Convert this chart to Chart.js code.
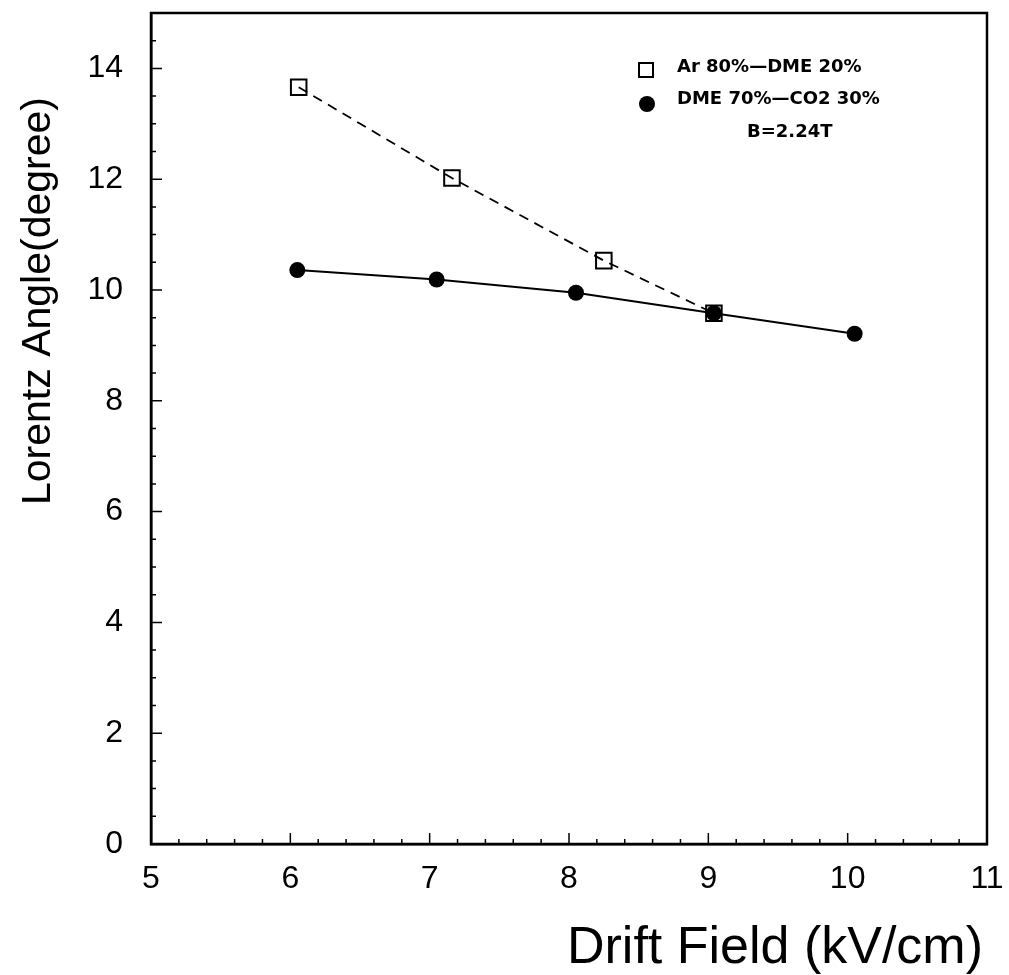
<!DOCTYPE html>
<html>
<head>
<meta charset="utf-8">
<script src="https://cdn.jsdelivr.net/npm/chart.js@4"></script>
<style>
  html, body { margin: 0; padding: 0; background: #fff; }
</style>
</head>
<body>
<canvas id="chart" width="1009" height="975"></canvas>
<script>
// values
const arField = [6.06, 7.16, 8.25, 9.04];
const arAngle = [13.66, 12.02, 10.53, 9.58];
const dmeField = [6.05, 7.05, 8.05, 9.04, 10.05];
const dmeAngle = [10.36, 10.19, 9.95, 9.58, 9.21];
const seriesNames = ['Ar 80%\u2014DME 20%', 'DME 70%\u2014CO2 30%'];
const fieldNote = 'B=2.24T';
const xTitle = 'Drift Field (kV/cm)';
const yTitle = 'Lorentz Angle(degree)';
const xRange = [5, 11];
const yRange = [0, 15];

const toPoints = (xs, ys) => xs.map((v, i) => ({ x: v, y: ys[i] }));

// frame, inward ticks, axis titles and the legend box
const decorations = {
  id: 'decorations',
  afterDraw(chart) {
    const { ctx, chartArea: a, scales: { x, y } } = chart;
    ctx.save();
    ctx.strokeStyle = '#000';
    ctx.lineWidth = 2.5;
    ctx.strokeRect(a.left, a.top, a.right - a.left, a.bottom - a.top);

    ctx.lineWidth = 1.5;
    ctx.beginPath();
    for (let i = 1; i < 30; i++) {
      const px = x.getPixelForValue(xRange[0] + i * 0.2);
      const len = i % 5 === 0 ? 11 : 5;
      ctx.moveTo(px, a.bottom);
      ctx.lineTo(px, a.bottom - len);
    }
    for (let i = 1; i < 30; i++) {
      const py = y.getPixelForValue(i * 0.5);
      const len = i % 4 === 0 ? 11 : 5;
      ctx.moveTo(a.left, py);
      ctx.lineTo(a.left + len, py);
    }
    ctx.stroke();

    ctx.fillStyle = '#000';
    ctx.textBaseline = 'alphabetic';
    ctx.textAlign = 'left';
    ctx.font = '52px "Liberation Sans"';
    ctx.fillText(xTitle, 567, 963);

    ctx.save();
    ctx.translate(50, 505);
    ctx.rotate(-Math.PI / 2);
    ctx.font = '41px "Liberation Sans"';
    ctx.fillText(yTitle, 0, 0);
    ctx.restore();

    // legend
    ctx.lineWidth = 2;
    ctx.strokeRect(639, 63, 14, 14);
    ctx.beginPath();
    ctx.arc(647, 104, 8, 0, Math.PI * 2);
    ctx.fill();
    ctx.font = 'bold 18px "DejaVu Sans"';
    ctx.fillText(seriesNames[0], 677, 72);
    ctx.fillText(seriesNames[1], 677, 104);
    ctx.fillText(fieldNote, 747, 137);
    ctx.restore();
  }
};

new Chart(document.getElementById('chart'), {
  type: 'scatter',
  data: {
    datasets: [{
      label: seriesNames[1],
      data: toPoints(dmeField, dmeAngle),
      showLine: true,
      borderColor: '#000',
      borderWidth: 2,
      pointStyle: 'circle',
      pointRadius: 8,
      pointBackgroundColor: '#000',
      pointBorderColor: '#000',
      pointBorderWidth: 0
    }, {
      label: seriesNames[0],
      data: toPoints(arField, arAngle),
      showLine: true,
      borderColor: '#000',
      borderWidth: 1.8,
      borderDash: [10, 7],
      pointStyle: 'rect',
      pointRadius: 11,
      pointBackgroundColor: 'rgba(0,0,0,0)',
      pointBorderColor: '#000',
      pointBorderWidth: 2
    }]
  },
  options: {
    responsive: false,
    animation: false,
    layout: { padding: { top: 13, right: 22, left: 0, bottom: 0 } },
    plugins: {
      legend: { display: false },
      tooltip: { enabled: false }
    },
    scales: {
      x: {
        type: 'linear',
        min: xRange[0],
        max: xRange[1],
        grid: { display: false },
        border: { display: true, color: '#000', width: 2.5 },
        ticks: {
          stepSize: 1,
          padding: 8,
          color: '#000',
          font: { family: 'Liberation Sans', size: 32 }
        },
        afterFit: (s) => { s.height = 131; s.paddingLeft = 0; s.paddingRight = 0; }
      },
      y: {
        type: 'linear',
        min: yRange[0],
        max: yRange[1],
        grid: { display: false },
        border: { display: true, color: '#000', width: 2.5 },
        ticks: {
          stepSize: 2,
          padding: 20,
          color: '#000',
          font: { family: 'Liberation Sans', size: 32 }
        },
        afterBuildTicks: (s) => { s.ticks = s.ticks.filter(t => t.value % 2 === 0); },
        afterFit: (s) => { s.width = 151; s.paddingTop = 0; s.paddingBottom = 0; }
      }
    }
  },
  plugins: [decorations]
});
</script>
</body>
</html>
